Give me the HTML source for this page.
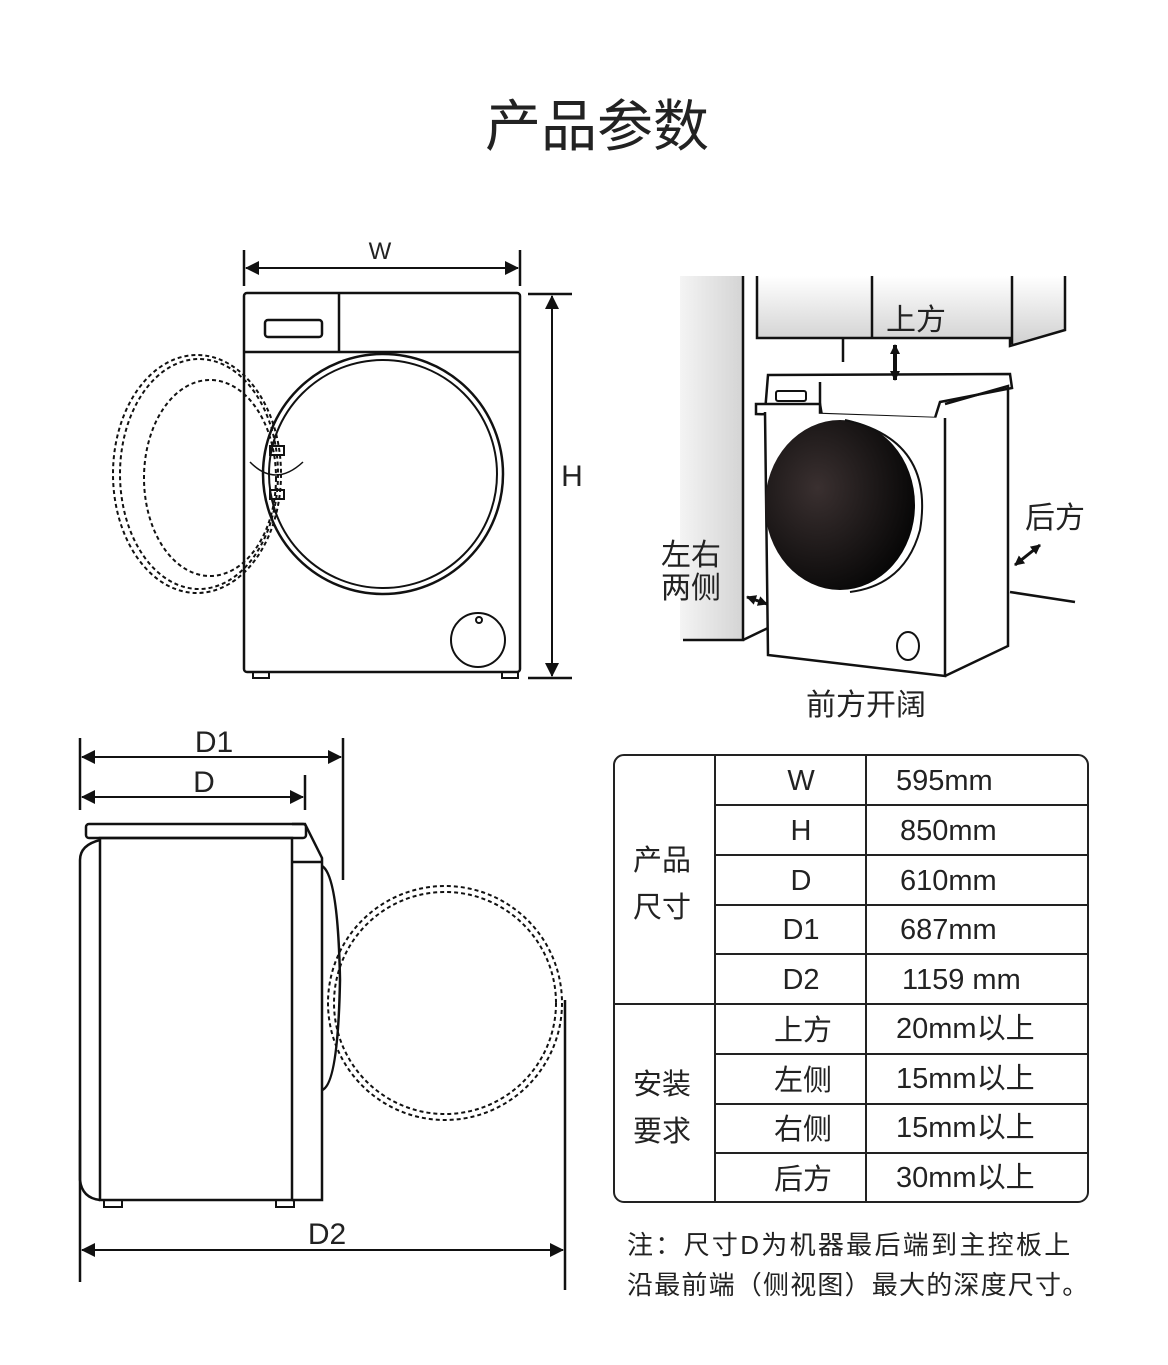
<!DOCTYPE html>
<html><head><meta charset="utf-8"><style>
html,body{margin:0;padding:0;background:#fff;}
svg text{font-family:"Liberation Sans","Noto Sans CJK SC",sans-serif;fill:#222;}
</style></head><body>
<svg width="1168" height="1360" viewBox="0 0 1168 1360" xmlns="http://www.w3.org/2000/svg">
<defs>
<marker id="a" markerWidth="14" markerHeight="14" refX="13" refY="7" orient="auto-start-reverse" markerUnits="userSpaceOnUse"><path d="M0,0 L14,7 L0,14 Z" fill="#111"/></marker>
<marker id="b" markerWidth="10" markerHeight="10" refX="9" refY="5" orient="auto-start-reverse" markerUnits="userSpaceOnUse"><path d="M0,0 L10,5 L0,10 Z" fill="#111"/></marker>
<linearGradient id="wall" x1="0" x2="1"><stop offset="0" stop-color="#f4f4f4"/><stop offset="1" stop-color="#d4d4d4"/></linearGradient>
<linearGradient id="cab" x1="0" y1="0" x2="0" y2="1"><stop offset="0" stop-color="#fff"/><stop offset="1" stop-color="#cfcfcf"/></linearGradient>
<radialGradient id="door" cx="0.35" cy="0.4" r="0.7"><stop offset="0" stop-color="#3a3030"/><stop offset="1" stop-color="#050505"/></radialGradient>
</defs>
<text x="597" y="146" font-size="56" text-anchor="middle" fill="#222">产品参数</text>

<!-- FRONT VIEW -->
<g stroke="#111" stroke-width="2.5" fill="none">
<line x1="244" y1="250" x2="244" y2="286"/><line x1="520" y1="250" x2="520" y2="286"/>
<line x1="246" y1="268" x2="518" y2="268" marker-start="url(#a)" marker-end="url(#a)" stroke-width="2"/>
<rect x="244" y="293" width="276" height="379" rx="3"/>
<line x1="244" y1="352" x2="520" y2="352"/><line x1="339" y1="293" x2="339" y2="352"/>
<rect x="265" y="320" width="57" height="17" rx="3"/>
<circle cx="383" cy="474" r="120"/><circle cx="383" cy="474" r="114" stroke-width="2"/>
<ellipse cx="197" cy="474" rx="84" ry="119" stroke-dasharray="4 3" stroke-width="2"/>
<ellipse cx="199" cy="474" rx="79" ry="115" stroke-dasharray="4 3" stroke-width="2"/>
<ellipse cx="210" cy="478" rx="66" ry="98" stroke-dasharray="4 3" stroke-width="2"/>
<rect x="270" y="446" width="14" height="9" stroke-width="2"/><rect x="270" y="490" width="14" height="9" stroke-width="2"/>
<path d="M250,462 Q275,488 303,462" stroke-width="1.5"/>
<circle cx="478" cy="640" r="27" stroke-width="2"/><circle cx="479" cy="620" r="3" stroke-width="2"/>
<rect x="253" y="672" width="16" height="6" stroke-width="2"/><rect x="502" y="672" width="16" height="6" stroke-width="2"/>
<line x1="528" y1="294" x2="572" y2="294"/><line x1="528" y1="678" x2="572" y2="678"/>
<line x1="552" y1="296" x2="552" y2="676" marker-start="url(#a)" marker-end="url(#a)" stroke-width="2"/>
</g>
<text x="380" y="259" font-size="24" text-anchor="middle">W</text>
<text x="572" y="486" font-size="30" text-anchor="middle">H</text>

<!-- SIDE VIEW -->
<g stroke="#111" stroke-width="2.5" fill="none">
<line x1="80" y1="738" x2="80" y2="810"/><line x1="80" y1="1130" x2="80" y2="1282"/>
<line x1="343" y1="738" x2="343" y2="880"/><line x1="305" y1="775" x2="305" y2="810"/>
<line x1="565" y1="1000" x2="565" y2="1290"/>
<line x1="82" y1="757" x2="341" y2="757" marker-start="url(#a)" marker-end="url(#a)" stroke-width="2"/>
<line x1="82" y1="797" x2="303" y2="797" marker-start="url(#a)" marker-end="url(#a)" stroke-width="2"/>
<line x1="82" y1="1250" x2="563" y2="1250" marker-start="url(#a)" marker-end="url(#a)" stroke-width="2"/>
<rect x="86" y="824" width="220" height="14" rx="3"/>
<rect x="100" y="838" width="192" height="362"/>
<path d="M100,840 Q80,845 80,860 L80,1180 Q82,1198 100,1200"/>
<path d="M292,824 L305,824 L322,858 L322,1200 L292,1200"/>
<line x1="292" y1="862" x2="322" y2="862"/>
<path d="M322,866 Q338,875 340,980 Q338,1085 322,1090"/>
<circle cx="445" cy="1003" r="117" stroke-dasharray="4 3" stroke-width="2"/>
<circle cx="445" cy="1003" r="111" stroke-dasharray="4 3" stroke-width="2"/>
<rect x="104" y="1200" width="18" height="7" stroke-width="2"/><rect x="276" y="1200" width="18" height="7" stroke-width="2"/>
</g>
<text x="214" y="752" font-size="30" text-anchor="middle">D1</text>
<text x="204" y="792" font-size="30" text-anchor="middle">D</text>
<text x="327" y="1244" font-size="30" text-anchor="middle">D2</text>

<!-- INSTALL VIEW -->
<rect x="680" y="276" width="63" height="364" fill="url(#wall)"/>
<g stroke="#111" stroke-width="2.5" fill="none">
<path d="M743,276 L743,640 L683,640"/>
<path d="M743,640 L768,628"/>
<path d="M757,276 L757,338 L1010,338 L1010,346 L1065,330 L1065,276" fill="url(#cab)"/>
<line x1="872" y1="276" x2="872" y2="338"/><line x1="1012" y1="276" x2="1012" y2="344"/>
<line x1="843" y1="338" x2="843" y2="362"/>
<path d="M768,375 L1010,374 L1012,388 L940,402 L935,418 L765,412 Z" fill="#fff"/>
<path d="M756,404 L820,404 L822,416 L756,414 Z" fill="#fff"/>
<rect x="776" y="391" width="30" height="10" rx="2" stroke-width="2"/>
<line x1="820" y1="382" x2="820" y2="414"/>
<path d="M765,412 L768,655 L945,676 L945,418" fill="#fff"/>
<path d="M945,676 L1008,646 L1008,386 L945,404"/>
<line x1="1010" y1="592" x2="1075" y2="602"/>
<ellipse cx="908" cy="646" rx="11" ry="14" stroke-width="2"/>
</g>
<ellipse cx="840" cy="505" rx="75" ry="85" fill="url(#door)"/>
<path d="M845,420 Q935,440 920,530 Q905,585 850,592" stroke="#111" stroke-width="2" fill="none"/>
<g stroke="#111" stroke-width="4" fill="none">
<line x1="895" y1="345" x2="895" y2="380" marker-start="url(#b)" marker-end="url(#b)"/>
<line x1="747" y1="597" x2="767" y2="604" marker-start="url(#b)" marker-end="url(#b)" stroke-width="3"/>
<line x1="1015" y1="565" x2="1040" y2="545" marker-start="url(#b)" marker-end="url(#b)" stroke-width="3"/>
</g>
<text x="916" y="330" font-size="30" text-anchor="middle">上方</text>
<text x="1055" y="528" font-size="30" text-anchor="middle">后方</text>
<text x="691" y="565" font-size="30" text-anchor="middle">左右</text>
<text x="691" y="598" font-size="30" text-anchor="middle">两侧</text>
<text x="866" y="715" font-size="30" text-anchor="middle">前方开阔</text>

<!-- TABLE -->
<g stroke="#222" stroke-width="2" fill="none">
<rect x="614" y="755" width="474" height="447" rx="10"/>
<line x1="715" y1="755" x2="715" y2="1202"/><line x1="866" y1="755" x2="866" y2="1202"/>
<line x1="715" y1="805" x2="1088" y2="805"/><line x1="715" y1="855" x2="1088" y2="855"/>
<line x1="715" y1="905" x2="1088" y2="905"/><line x1="715" y1="954" x2="1088" y2="954"/>
<line x1="614" y1="1004" x2="1088" y2="1004"/>
<line x1="715" y1="1054" x2="1088" y2="1054"/><line x1="715" y1="1104" x2="1088" y2="1104"/>
<line x1="715" y1="1153" x2="1088" y2="1153"/>
</g>
<g font-size="29">
<text x="662" y="870" text-anchor="middle">产品</text><text x="662" y="917" text-anchor="middle">尺寸</text>
<text x="662" y="1094" text-anchor="middle">安装</text><text x="662" y="1141" text-anchor="middle">要求</text>
<g text-anchor="middle">
<text x="801" y="790">W</text><text x="801" y="840">H</text><text x="801" y="890">D</text><text x="801" y="939">D1</text><text x="801" y="989">D2</text>
<text x="803" y="1040">上方</text><text x="803" y="1090">左侧</text><text x="803" y="1139">右侧</text><text x="803" y="1189">后方</text>
</g>
<text x="896" y="790">595mm</text><text x="900" y="840">850mm</text><text x="900" y="890">610mm</text><text x="900" y="939">687mm</text><text x="902" y="989">1159 mm</text>
<text x="896" y="1038">20mm以上</text><text x="896" y="1088">15mm以上</text><text x="896" y="1137">15mm以上</text><text x="896" y="1187">30mm以上</text>
</g>
<text x="627" y="1254" font-size="26" letter-spacing="2.3">注：尺寸D为机器最后端到主控板上</text>
<text x="627" y="1294" font-size="26" letter-spacing="1.2">沿最前端（侧视图）最大的深度尺寸。</text>
</svg>
</body></html>
